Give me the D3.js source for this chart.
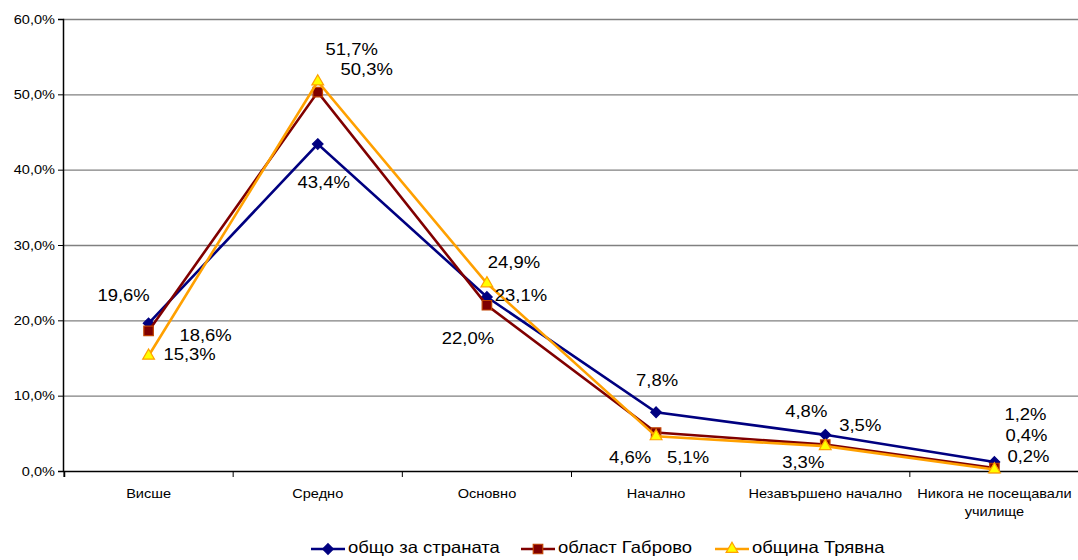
<!DOCTYPE html>
<html>
<head>
<meta charset="utf-8">
<script src="https://cdn.jsdelivr.net/npm/d3@7"></script>
<style>
  body { margin: 0; background: #fff; }
  text { font-family: "Liberation Sans", Arial, sans-serif; fill: #000; }
</style>
</head>
<body>
<div id="chart"></div>
<script>
const WIDTH = 1078;
const HEIGHT = 560;
const MARGIN = { top: 19, right: 0, bottom: 89, left: 63 };
const SX = 1.12; // the original is a little wider than tall

const categories = ["Висше", "Средно", "Основно", "Начално", "Незавършено начално", "Никога не посещавали училище"];
const seriesNames = ["общо за страната", "област Габрово", "община Трявна"];
const country = [19.6, 43.4, 23.1, 7.8, 4.8, 1.2];
const gabrovo = [18.6, 50.3, 22.0, 5.1, 3.5, 0.4];
const tryavna = [15.3, 51.7, 24.9, 4.6, 3.3, 0.2];
const yTicks = [0, 10, 20, 30, 40, 50, 60];

// where each data label sits relative to its marker
const countryLabelOffset = [[-25, -27], [6, 40], [34, 0], [1, -31], [-19, -22], [31, -46]];
const gabrovoLabelOffset = [[57, 6], [49, -21], [-19, 34], [32, 26], [35, -18], [32, -31]];
const tryavnaLabelOffset = [[41, 0], [34, -31], [27, -20], [-26, 22], [-22, 18], [34, -12]];

// squat diamond like the spreadsheet one
const symbolDiamondSq = {
    draw(ctx, size) {
        const r = Math.sqrt(size / 2);
        ctx.moveTo(0, -r);
        ctx.lineTo(r, 0);
        ctx.lineTo(0, r);
        ctx.lineTo(-r, 0);
        ctx.closePath();
    }
};

const series = [
    { name: seriesNames[0], values: country, offsets: countryLabelOffset, line: "#000080", fill: "#000080", stroke: "#000080", symbol: symbolDiamondSq, size: 56 },
    { name: seriesNames[1], values: gabrovo, offsets: gabrovoLabelOffset, line: "#800000", fill: "#800000", stroke: "#c04000", symbol: d3.symbolSquare, size: 90 },
    { name: seriesNames[2], values: tryavna, offsets: tryavnaLabelOffset, line: "#ffa000", fill: "#ffff00", stroke: "#ffa000", symbol: d3.symbolTriangle, size: 60 }
];

const fmt = v => d3.format(".1f")(v).replace(".", ",") + "%";

const svg = d3.select("#chart").append("svg")
    .attr("width", WIDTH)
    .attr("height", HEIGHT);

const innerW = WIDTH - MARGIN.left - MARGIN.right;
const innerH = HEIGHT - MARGIN.top - MARGIN.bottom;

const g = svg.append("g")
    .attr("transform", `translate(${MARGIN.left},${MARGIN.top})`);

const x = d3.scaleBand().domain(categories).range([1, innerW + 1]);
const y = d3.scaleLinear().domain([0, 60]).range([innerH, 0]);

// gridlines
g.selectAll(".grid")
    .data(yTicks.filter(t => t > 0))
    .enter().append("line")
    .attr("x1", 0).attr("x2", innerW)
    .attr("y1", d => y(d) + 0.5).attr("y2", d => y(d) + 0.5)
    .attr("stroke", "#808080")
    .attr("stroke-width", 1.3);

// y axis
const yAxis = g.append("g")
    .call(d3.axisLeft(y).tickValues(yTicks).tickSize(5).tickFormat(d => fmt(d)));
yAxis.select(".domain").attr("stroke", "#000").attr("stroke-width", 1.5);
yAxis.selectAll(".tick line").attr("stroke", "#000");
yAxis.selectAll(".tick text")
    .attr("x", 0)
    .attr("text-anchor", "end")
    .attr("font-size", 13)
    .attr("transform", `translate(-8,0) scale(${SX},1)`);

// x axis
const xAxis = g.append("g")
    .attr("transform", `translate(0,${innerH})`)
    .call(d3.axisBottom(x).tickSize(6).tickFormat(""));
xAxis.select(".domain").attr("stroke", "#000").attr("stroke-width", 1.5);
xAxis.selectAll(".tick line")
    .attr("stroke", "#000")
    .attr("transform", `translate(${-x.bandwidth() / 2},0)`);

const catLines = {
    "Никога не посещавали училище": ["Никога не посещавали", "училище"]
};
categories.forEach(c => {
    const lines = catLines[c] || [c];
    const t = g.append("text")
        .attr("transform", `translate(${x(c) + x.bandwidth() / 2},${innerH + 27}) scale(${SX},1)`)
        .attr("text-anchor", "middle")
        .attr("font-size", 13);
    lines.forEach((l, i) => {
        t.append("tspan").attr("x", 0).attr("dy", i === 0 ? 0 : 18).text(l);
    });
});

const cx = c => x(c) + x.bandwidth() / 2;

series.forEach(s => {
    const line = d3.line()
        .x((d, i) => cx(categories[i]))
        .y(d => y(d));
    g.append("path")
        .datum(s.values)
        .attr("d", line)
        .attr("fill", "none")
        .attr("stroke", s.line)
        .attr("stroke-width", 2.6);

    g.selectAll(null)
        .data(s.values)
        .enter().append("path")
        .attr("d", d3.symbol().type(s.symbol).size(s.size))
        .attr("transform", (d, i) => `translate(${cx(categories[i])},${y(d)})`)
        .attr("fill", s.fill)
        .attr("stroke", s.stroke)
        .attr("stroke-width", 1.2);
});

// data labels
series.forEach(s => {
    g.selectAll(null)
        .data(s.values)
        .enter().append("text")
        .attr("transform", (d, i) => `translate(${cx(categories[i]) + s.offsets[i][0]},${y(d) + s.offsets[i][1]}) scale(${SX},1)`)
        .attr("text-anchor", "middle")
        .attr("dominant-baseline", "middle")
        .attr("font-size", 16.5)
        .text(d => fmt(d));
});

// legend
const legendX = [311, 521, 715];
const legend = svg.append("g").attr("transform", `translate(0,${HEIGHT - 11})`);
series.forEach((s, i) => {
    const lg = legend.append("g").attr("transform", `translate(${legendX[i]},0)`);
    lg.append("line")
        .attr("x1", 0).attr("x2", 34)
        .attr("stroke", s.line).attr("stroke-width", 2.6);
    lg.append("path")
        .attr("d", d3.symbol().type(s.symbol).size(s.size))
        .attr("transform", "translate(17,0)")
        .attr("fill", s.fill)
        .attr("stroke", s.stroke)
        .attr("stroke-width", 1.2);
    lg.append("text")
        .attr("transform", `translate(37,0) scale(${SX},1)`)
        .attr("dominant-baseline", "middle")
        .attr("font-size", 16.5)
        .text(s.name);
});
</script>
</body>
</html>
